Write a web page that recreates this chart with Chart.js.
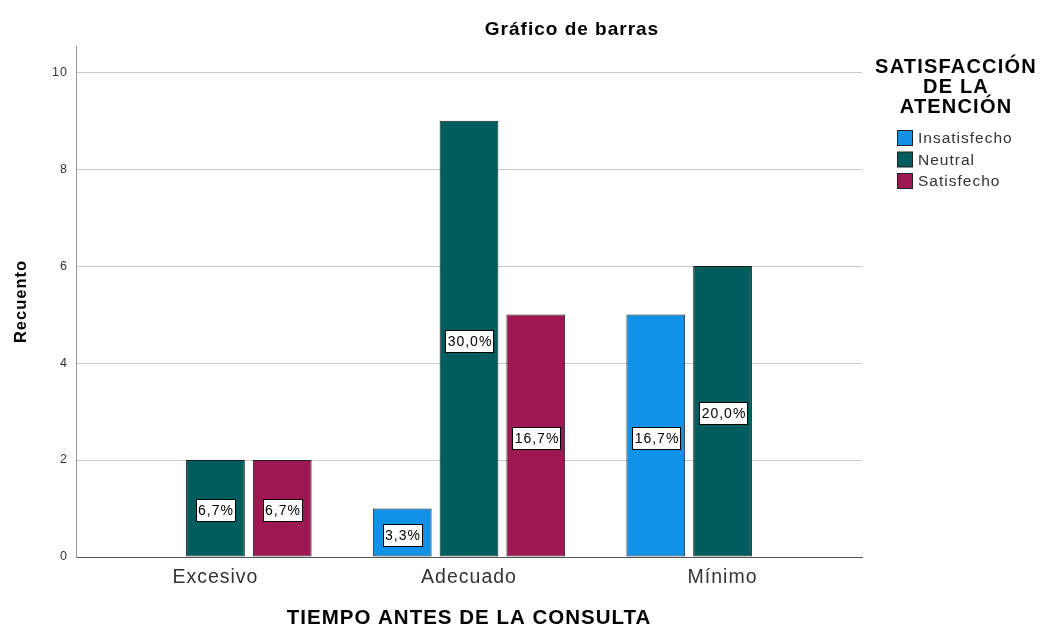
<!DOCTYPE html>
<html>
<head>
<meta charset="utf-8">
<script src="https://cdn.jsdelivr.net/npm/chart.js@4.4.0/dist/chart.umd.min.js"></script>
<style>
html, body { margin: 0; padding: 0; background: #fff; }
</style>
</head>
<body>
<canvas id="chart" width="1040" height="628"></canvas>
<script>
// data
var categories = ['Excesivo', 'Adecuado', 'Mínimo'];
var seriesNames = ['Insatisfecho', 'Neutral', 'Satisfecho'];
var insatisfecho = [0, 1, 5];
var neutral = [2, 9, 6];
var satisfecho = [2, 5, 0];
var yTicks = [0, 2, 4, 6, 8, 10];
var seriesColors = ['#1192e8', '#005d5d', '#9f1853'];
var legendTitle = ['SATISFACCIÓN', 'DE LA', 'ATENCIÓN'];

var FONT = "'Liberation Sans', Arial, sans-serif";
var series = [insatisfecho, neutral, satisfecho];
var total = 0;
series.forEach(function (s) { s.forEach(function (v) { total += v; }); });

function pctText(v) {
    return (v / total * 100).toFixed(1).replace('.', ',') + '%';
}

var datasets = series.map(function (vals, k) {
    return {
        label: seriesNames[k],
        data: vals.map(function (v, i) { return { x: i, y: v }; }),
        backgroundColor: seriesColors[k],
        borderColor: '#1e1e1e',
        borderWidth: function (c) { return c.raw && c.raw.y ? 1 : 0; },
        borderSkipped: false,
        categoryPercentage: 0.79,
        barPercentage: 0.88
    };
});

// letter spacing for the native texts
var spacingPlugin = {
    id: 'spacing',
    beforeUpdate: function (chart) { chart.ctx.letterSpacing = '1px'; },
    beforeDraw: function (chart) { chart.ctx.letterSpacing = '1px'; }
};

// title, legend and percentage boxes
var extrasPlugin = {
    id: 'extras',
    afterDraw: function (chart) {
        var ctx = chart.ctx;
        ctx.save();
        ctx.fillStyle = '#000';
        ctx.textAlign = 'center';
        ctx.textBaseline = 'middle';
        ctx.letterSpacing = '1px';
        ctx.font = 'bold 19px ' + FONT;
        ctx.fillText('Gráfico de barras', 572, 30);

        ctx.letterSpacing = '1.2px';
        ctx.font = 'bold 20px ' + FONT;
        legendTitle.forEach(function (t, i) {
            ctx.fillText(t, 956, 67 + i * 20);
        });

        ctx.letterSpacing = '1px';
        ctx.textAlign = 'left';
        ctx.font = '15.5px ' + FONT;
        seriesNames.forEach(function (name, i) {
            var y = 138 + i * 21.5;
            ctx.fillStyle = seriesColors[i];
            ctx.fillRect(897.5, y - 7.5, 15, 15);
            ctx.strokeStyle = '#222';
            ctx.lineWidth = 1;
            ctx.strokeRect(897.5, y - 7.5, 15, 15);
            ctx.fillStyle = '#333';
            ctx.fillText(name, 918, y + 1);
        });

        ctx.font = '14px ' + FONT;
        ctx.textAlign = 'center';
        chart.data.datasets.forEach(function (ds, k) {
            var meta = chart.getDatasetMeta(k);
            meta.data.forEach(function (bar, i) {
                var v = series[k][i];
                if (!v) return;
                var txt = pctText(v);
                var w = Math.round(ctx.measureText(txt).width) + 3;
                var h = 22;
                var cx = Math.round(bar.x);
                var cy = Math.round((bar.y + bar.base) / 2) + 2;
                var x0 = Math.round(cx - w / 2), y0 = Math.round(cy - h / 2);
                ctx.fillStyle = '#fff';
                ctx.fillRect(x0, y0, w, h);
                ctx.strokeStyle = '#000';
                ctx.strokeRect(x0 + 0.5, y0 + 0.5, w, h);
                ctx.fillStyle = '#000';
                ctx.fillText(txt, cx + 1, cy + 1);
            });
        });
        ctx.restore();
    }
};

new Chart(document.getElementById('chart'), {
    type: 'bar',
    data: { datasets: datasets },
    plugins: [spacingPlugin, extrasPlugin],
    options: {
        responsive: false,
        devicePixelRatio: 1,
        animation: false,
        layout: { padding: { left: 0, right: 178, top: 46, bottom: 0 } },
        plugins: {
            legend: { display: false },
            title: { display: false },
            tooltip: { enabled: false }
        },
        scales: {
            x: {
                type: 'linear',
                offset: false,
                min: -0.55,
                max: 2.55,
                afterBuildTicks: function (scale) {
                    scale.ticks = categories.map(function (c, i) { return { value: i }; });
                },
                afterFit: function (scale) { scale.height = 71; },
                grid: { display: false, drawTicks: false },
                border: { display: true, color: '#555', width: 1 },
                ticks: {
                    callback: function (v) { return categories[v]; },
                    color: '#333',
                    padding: 9,
                    maxRotation: 0,
                    font: { family: FONT, size: 19.5 }
                },
                title: {
                    display: true,
                    text: 'TIEMPO ANTES DE LA CONSULTA',
                    color: '#000',
                    padding: { top: 0, bottom: -3 },
                    font: { family: FONT, size: 20.5, weight: 'bold' }
                }
            },
            y: {
                min: 0,
                max: 10.54,
                afterBuildTicks: function (scale) {
                    scale.ticks = yTicks.map(function (v) { return { value: v }; });
                },
                afterFit: function (scale) { scale.width = 76; },
                grid: { color: '#c8c8c8', drawTicks: false },
                border: { display: true, color: '#999', width: 1 },
                ticks: {
                    color: '#333',
                    padding: 8,
                    font: { family: FONT, size: 12.5 }
                },
                title: {
                    display: true,
                    text: 'Recuento',
                    color: '#000',
                    padding: { top: 12, bottom: 0 },
                    font: { family: FONT, size: 16.5, weight: 'bold' }
                }
            }
        }
    }
});
</script>
</body>
</html>
